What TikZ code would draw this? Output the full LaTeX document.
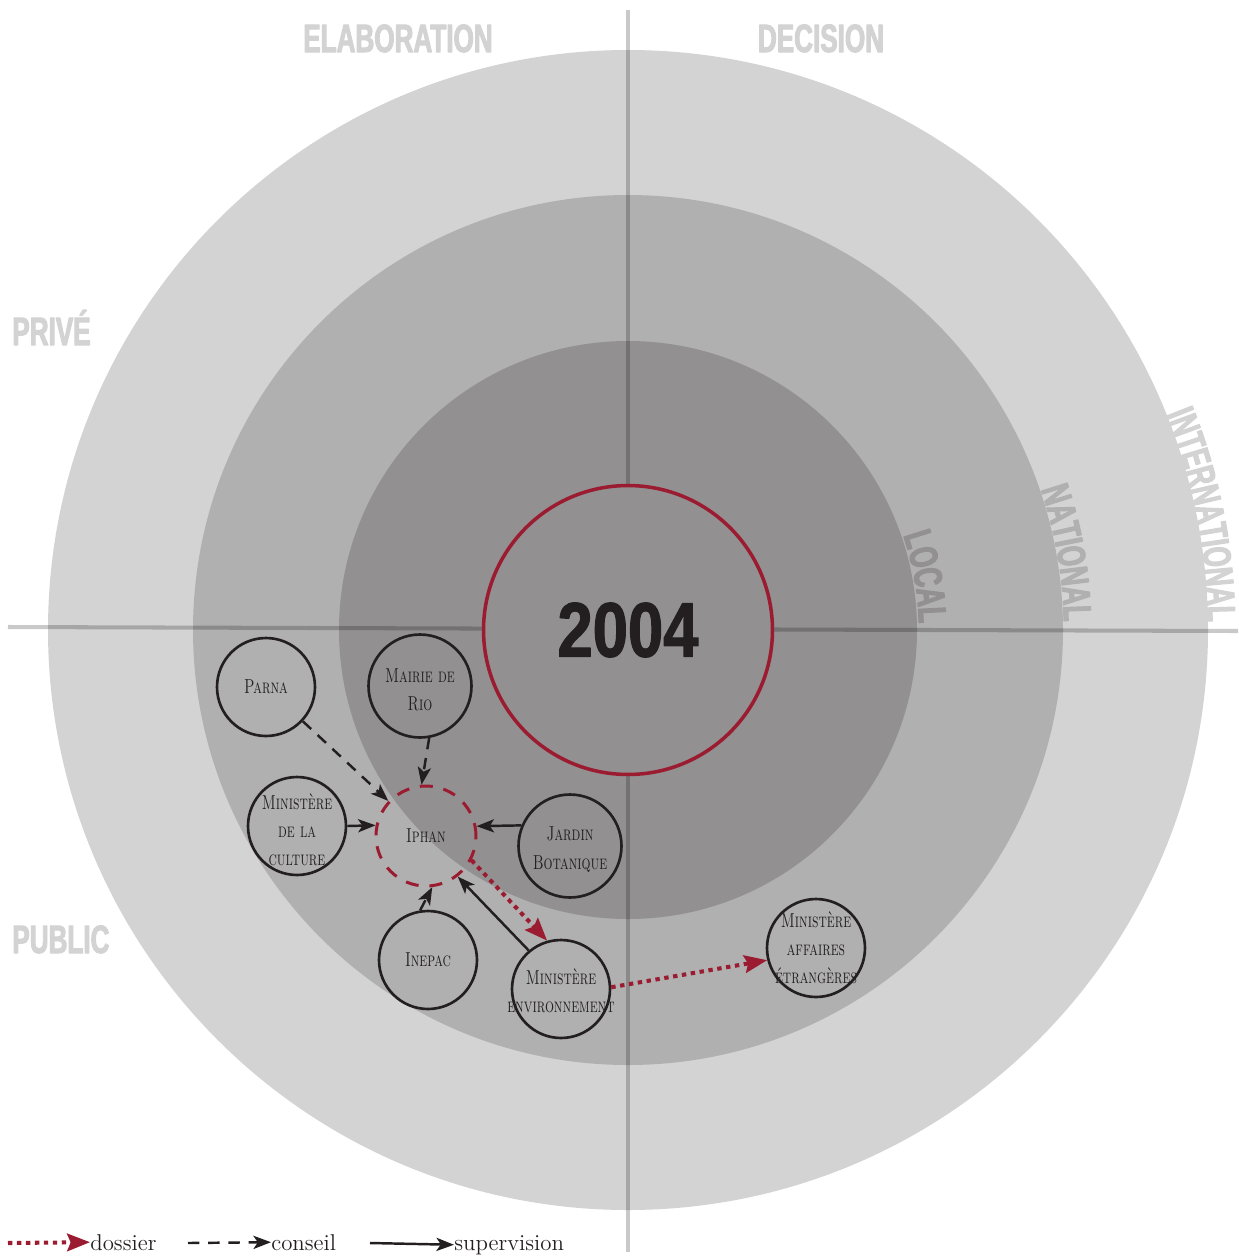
\documentclass[tikz,border=0pt]{standalone}
\usepackage{fontspec}
\usetikzlibrary{arrows.meta,decorations.text}
\newfontfamily\condfont{Liberation Sans}[FakeStretch=0.66,FakeBold=2.5]
\newfontfamily\yearfont{Liberation Sans}[FakeStretch=0.82,FakeBold=1.5]
\newfontfamily\orgfont{lmroman10-regular}[Extension=.otf,FakeStretch=0.7,SmallCapsFont=lmromancaps10-regular,SmallCapsFeatures={FakeStretch=0.7}]
\newcommand\ringlab{\condfont\bfseries\fontsize{22.5}{22.5}\selectfont}
\begin{document}
\begin{tikzpicture}[x=0.02cm,y=0.02cm,line join=round]
	\definecolor{ringout}{RGB}{211,211,211}
	\definecolor{ringmid}{RGB}{176,176,176}
	\definecolor{ringin}{RGB}{146,144,145}
	\definecolor{crimson}{RGB}{155,27,48}
	\definecolor{ink}{RGB}{35,31,32}
	\tikzset{
		axis/.style={line width=2.3pt,black,opacity=.21},
		axislab/.style={font=\ringlab,text=ringout,inner sep=0pt},
		org/.style={circle,draw=ink,line width=1.5pt,minimum size=1.96cm,inner sep=0pt},
		orglab/.style={font=\orgfont\fontsize{11.5}{16}\selectfont\scshape,text=ink,align=center,inner sep=0pt},
		conseil/.style={draw=ink,line width=1.4pt,dash pattern=on 6.5pt off 5pt,-{Stealth[length=10pt,width=7.5pt,inset=2.5pt]}},
		supervision/.style={draw=ink,line width=1.4pt,-{Stealth[length=10pt,width=7.5pt,inset=2.5pt]}},
		dossier/.style={draw=crimson,line width=2.3pt,dash pattern=on 2.5pt off 2.6pt,-{Stealth[length=13pt,width=10pt,inset=2pt]}},
		legtext/.style={font=\fontsize{13}{13}\selectfont,text=ink,inner sep=0pt,anchor=base west}
	}
	\useasboundingbox (0,0) rectangle (1238,-1258);
	
	%%%% anneaux
	\fill[ringout] (628,-630) circle[radius=580];
	\fill[ringmid] (628,-630) circle[radius=435];
	\fill[ringin] (628,-630) circle[radius=289];
	\path[decorate,decoration={text along path,text align=right,text={|\ringlab\color{ringin}|LOCAL}}]
	(628,-630) ++(30:291) arc[start angle=30,end angle=1.3,radius=291];
	\path[decorate,decoration={text along path,text align=right,text={|\ringlab\color{ringmid}|NATIONAL}}]
	(628,-630) ++(35:436) arc[start angle=35,end angle=1.1,radius=436];
	\path[decorate,decoration={text along path,text align=right,text={|\ringlab\color{ringout}|INTERNATIONAL}}]
	(628,-630) ++(40:580) arc[start angle=40,end angle=0.8,radius=580];
	
	%%%% axes
	\node[axislab,anchor=base] (elab) at (398,-52) {ELABORATION};
	\node[axislab,anchor=base] (deci) at (821,-52) {DECISION};
	\node[axislab,anchor=base west] (prive) at (12,-345) {PRIVÉ};
	\node[axislab,anchor=base west] (public) at (12,-953) {PUBLIC};
	\draw[axis] (8,-627) -- (1238,-631);
	\draw[axis] (628,-10) -- (628,-1252);
	
	\node[circle,draw=crimson,line width=2pt,fill=ringin,minimum size=5.78cm,inner sep=0pt,
	font=\yearfont\bfseries\fontsize{44}{44}\selectfont,text=ink] (year) at (628,-630) {2004};
	
	%%%% acteurs
	\node[org,label={[orglab]center:Parna}] (parna) at (266,-687) {};
	\node[org,minimum size=2.06cm,label={[orglab,yshift=-2pt]center:{Mairie de\\Rio}}] (mairie) at (420,-686) {};
	\node[org,label={[orglab,yshift=-2pt]center:{Ministère\\de la\\culture}}] (culture) at (297,-826) {};
	\node[org,draw=crimson,line width=1.7pt,dash pattern=on 7.4pt off 6.2pt,minimum size=2cm,
	label={[orglab]center:Iphan}] (iphan) at (426,-836) {};
	\node[org,minimum size=2.06cm,label={[orglab,yshift=-2pt]center:{Jardin\\Botanique}}] (jardin) at (570,-846) {};
	\node[org,label={[orglab]center:Inepac}] (inepac) at (428,-960) {};
	\node[org,label={[orglab,yshift=-1pt]center:{Ministère\\environnement}}] (minenv) at (561,-989) {};
	\node[org,label={[orglab]center:{Ministère\\affaires\\étrangères}}] (mae) at (816,-948) {};
	
	\draw[conseil] (parna) -- (iphan);
	\draw[conseil] (mairie.-80) -- (iphan.95);
	\draw[conseil] (inepac.99) -- (iphan.-83);
	\draw[supervision] (culture.east) -- (iphan.168);
	\draw[supervision] (jardin.157) -- (iphan.11);
	\draw[supervision] (minenv.130) -- (iphan.-52);
	\draw[dossier] (iphan.-28) -- (minenv.106);
	\draw[dossier] (minenv.2) -- (mae.194);
	
	%%%% légende
	\node[legtext] (dosT) at (90,-1250) {dossier};
	\node[legtext] (conT) at (271,-1250) {conseil};
	\node[legtext] (supT) at (454,-1250) {supervision};
	\coordinate (dosA) at (8,-1243);
	\coordinate (conA) at (188,-1243);
	\coordinate (supA) at (370,-1243);
	\draw[dossier] (dosA) -- (dosT.west);
	\draw[conseil] (conA) -- (conT.west);
	\draw[supervision] (supA) -- (supT.west);
\end{tikzpicture}
\end{document}
